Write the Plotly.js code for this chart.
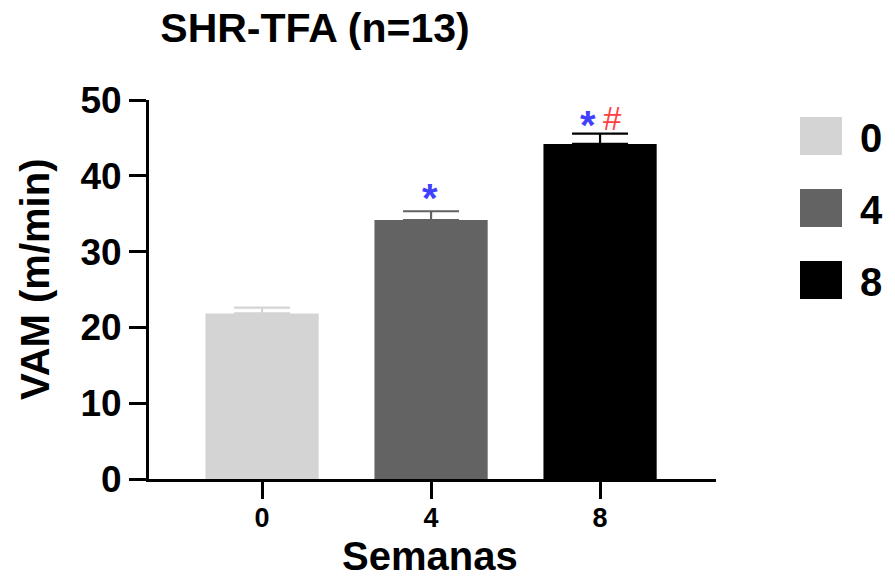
<!DOCTYPE html>
<html>
<head>
<meta charset="utf-8">
<script src="https://cdn.plot.ly/plotly-3.0.1.min.js"></script>
<style>html,body{margin:0;padding:0;background:#fff;}#chart{width:895px;height:579px;}</style>
</head>
<body>
<div id="chart"></div>
<script>
// ---- data ----
const categories = ['0', '4', '8'];
const means = [21.85, 34.17, 44.2];
const sems = [0.75, 1.15, 1.37];
const starLabels = ['', '*', '*'];
const hashLabels = ['', '', '#'];
const yTickVals = [0, 10, 20, 30, 40, 50];
const chartTitle = 'SHR-TFA (n=13)';
const xTitle = 'Semanas';
const yTitle = 'VAM (m/min)';

// ---- style ----
const barColors = ['#d4d4d4', '#636363', '#000000'];
const errColors = ['#d4d4d4', '#636363', '#000000'];
const starYShift = [0, 13, 9];
const FONT = 'Liberation Sans, Arial, Helvetica, sans-serif';
const W = 895, H = 579;
const M = {l: 149, r: 179, t: 100, b: 100};
const PW = W - M.l - M.r, PH = H - M.t - M.b;
const px2x = p => (p - M.l) / PW;
const px2y = p => (H - M.b - p) / PH;

const traces = categories.map((c, i) => ({
  type: 'bar',
  x: [i],
  y: [means[i]],
  width: 0.67,
  marker: {color: barColors[i], line: {width: 0}},
  error_y: {type: 'data', symmetric: false, array: [sems[i]], arrayminus: [0],
            color: errColors[i], thickness: 2.2, width: 28},
  showlegend: false,
  hoverinfo: 'skip'
}));

const annotations = [];
const shapes = [];
categories.forEach((c, i) => {
  if (starLabels[i]) {
    annotations.push({x: i, y: means[i] + sems[i], xref: 'x', yref: 'y',
      text: starLabels[i], showarrow: false, yanchor: 'middle',
      xshift: hashLabels[i] ? -12 : -1, yshift: starYShift[i],
      font: {family: FONT, size: 40, color: '#4040ff', weight: 700}});
  }
  if (hashLabels[i]) {
    annotations.push({x: i, y: means[i] + sems[i], xref: 'x', yref: 'y',
      text: hashLabels[i], showarrow: false, yanchor: 'middle',
      xshift: 12, yshift: 15,
      font: {family: FONT, size: 33, color: '#ff4040', weight: 400}});
  }
  // custom legend
  const cy = 136 + i * 72;
  shapes.push({type: 'rect', xref: 'paper', yref: 'paper',
    x0: px2x(800), x1: px2x(842), y0: px2y(cy + 19), y1: px2y(cy - 19),
    fillcolor: barColors[i], line: {width: 0}});
  annotations.push({xref: 'paper', yref: 'paper', x: px2x(858), y: px2y(cy + 2),
    text: c, showarrow: false, xanchor: 'left', yanchor: 'middle',
    font: {family: FONT, size: 40, color: '#000', weight: 700}});
});

// axis titles as annotations
annotations.push({xref: 'paper', yref: 'paper', x: px2x(35), y: px2y(280),
  text: yTitle, textangle: -90, showarrow: false, xanchor: 'center', yanchor: 'middle',
  font: {family: FONT, size: 40, color: '#000', weight: 700}});
annotations.push({xref: 'paper', yref: 'paper', x: px2x(430), y: px2y(556),
  text: xTitle, showarrow: false, xanchor: 'center', yanchor: 'middle', borderpad: 0,
  font: {family: FONT, size: 40, color: '#000', weight: 700}});

const layout = {
  width: W, height: H,
  margin: M,
  paper_bgcolor: '#fff', plot_bgcolor: '#fff',
  font: {family: FONT, color: '#000'},
  title: {text: chartTitle, xref: 'container', yref: 'container',
          x: 315 / W, xanchor: 'center', y: 1 - 28 / H, yanchor: 'middle',
          font: {family: FONT, size: 41, color: '#000', weight: 700}},
  xaxis: {type: 'linear', tickvals: [0, 1, 2], ticktext: categories,
          range: [-0.669, 2.686], showline: true, linewidth: 3, linecolor: '#000',
          ticks: 'outside', ticklen: 17, tickwidth: 3, tickcolor: '#000',
          ticklabelstandoff: -4,
          showgrid: false, zeroline: false, fixedrange: true,
          tickfont: {family: FONT, size: 27, color: '#000', weight: 700}},
  yaxis: {range: [0, 50], tickvals: yTickVals, showline: true, linewidth: 3,
          linecolor: '#000', ticks: 'outside', ticklen: 17, tickwidth: 3,
          tickcolor: '#000', showgrid: false, zeroline: false, fixedrange: true,
          tickfont: {family: FONT, size: 37, color: '#000', weight: 700}},
  annotations: annotations,
  shapes: shapes
};

Plotly.newPlot('chart', traces, layout, {displayModeBar: false, staticPlot: true});
</script>
</body>
</html>
